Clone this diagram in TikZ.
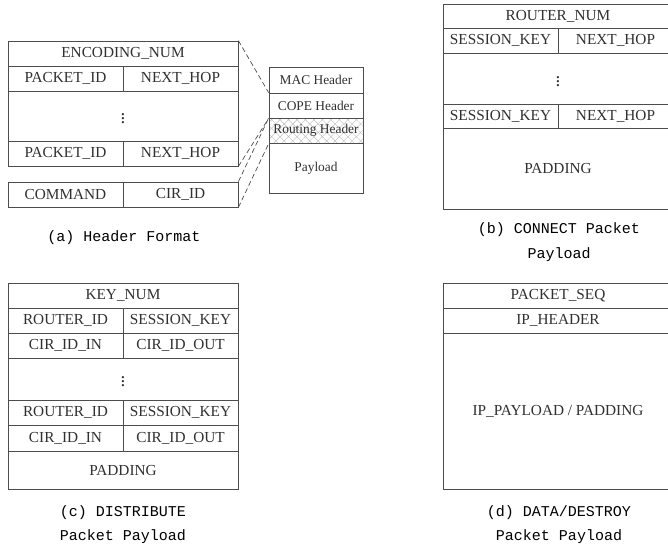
\documentclass[tikz,border=0pt]{standalone}
\usepackage{fontspec}
\setmainfont{Liberation Serif}
\newfontfamily\capfont{Liberation Mono}
\usetikzlibrary{patterns.meta}
\definecolor{linegray}{HTML}{4D4D4D}
\definecolor{textgray}{HTML}{303030}
\definecolor{hatchgray}{HTML}{BDBDBD}
\newcommand{\rowdots}{{\fontsize{19}{19}\selectfont$\vdots$}}
\begin{document}
\begin{tikzpicture}[x=1pt, y=-1pt,
          field/.style={draw=linegray, line width=0.8pt, inner sep=0pt, text=textgray,
                        font=\fontsize{15.3}{18}\selectfont},
          half/.style={field, minimum width=115pt, minimum height=25pt},
          full/.style={field, minimum width=230pt},
          hdr/.style={field, minimum width=94pt, font=\fontsize{13.4}{16}\selectfont},
          caption/.style={text=black, align=center, inner sep=0pt,
                          font=\capfont\fontsize{15}{24.5}\selectfont},
          zoomline/.style={draw=linegray, line width=0.7pt, dash pattern=on 5pt off 3pt}
        ]
        \useasboundingbox (0,0) rectangle (668,544);
        % (a) header format
        \node[full, minimum height=25pt] (encnum) at (123,53.5) {ENCODING\_NUM};
        \node[half] (pid1) at (65.5,78.5) {PACKET\_ID};
        \node[half] (nhop1) at (180.5,78.5) {NEXT\_HOP};
        \node[full, minimum height=50pt] (dotsa) at (123,116) {\rowdots};
        \node[half] (pid2) at (65.5,153.5) {PACKET\_ID};
        \node[half] (nhop2) at (180.5,153.5) {NEXT\_HOP};
        \node[half] (cmd) at (65.5,194.5) {COMMAND};
        \node[half] (cirid) at (180.5,194.5) {CIR\_ID};
        \node[hdr, minimum height=26pt] (mac) at (316,80) {MAC Header};
        \node[hdr, minimum height=25pt] (cope) at (316,105.5) {COPE Header};
        \node[hdr, minimum height=25pt, pattern={Hatch[angle=45, distance=6pt, line width=0.4pt]},
              pattern color=hatchgray] (routing) at (316,130.5) {Routing Header};
        \node[hdr, minimum height=50pt] (payload) at (316,168) {Payload};
        \draw[zoomline] (encnum.north east) -- (cope.north west);
        \draw[zoomline] (nhop2.south east) -- (cope.south west);
        \draw[zoomline] (cirid.north east) -- (routing.north west);
        \draw[zoomline] (cirid.south east) -- (routing.south west);
        \node[caption] (capa) at (124,238) {(a) Header Format};
        % (b) connect payload
        \node[full, minimum height=24pt] (rnum) at (558,16) {ROUTER\_NUM};
        \node[half] (skey1) at (500.5,40.5) {SESSION\_KEY};
        \node[half] (nhop3) at (615.5,40.5) {NEXT\_HOP};
        \node[full, minimum height=51pt] (dotsb) at (558,78.5) {\rowdots};
        \node[half, minimum height=24pt] (skey2) at (500.5,116) {SESSION\_KEY};
        \node[half, minimum height=24pt] (nhop4) at (615.5,116) {NEXT\_HOP};
        \node[full, minimum height=81pt] (padb) at (558,168.5) {PADDING};
        \node[caption] (capb) at (559,242) {(b) CONNECT Packet\\Payload};
        % (c) distribute payload
        \node[full, minimum height=25pt] (knum) at (123,295.5) {KEY\_NUM};
        \node[half] (rid1) at (65.5,320.5) {ROUTER\_ID};
        \node[half] (skey3) at (180.5,320.5) {SESSION\_KEY};
        \node[half] (cin1) at (65.5,345.5) {CIR\_ID\_IN};
        \node[half] (cout1) at (180.5,345.5) {CIR\_ID\_OUT};
        \node[full, minimum height=42pt] (dotsc) at (123,379) {\rowdots};
        \node[half] (rid2) at (65.5,412.5) {ROUTER\_ID};
        \node[half] (skey4) at (180.5,412.5) {SESSION\_KEY};
        \node[half, minimum height=26pt] (cin2) at (65.5,438) {CIR\_ID\_IN};
        \node[half, minimum height=26pt] (cout2) at (180.5,438) {CIR\_ID\_OUT};
        \node[full, minimum height=38pt] (padc) at (123,470) {PADDING};
        \node[caption] (capc) at (123,524.5) {(c) DISTRIBUTE\\Packet Payload};
        % (d) data/destroy payload
        \node[full, minimum height=25pt] (pseq) at (558,295.5) {PACKET\_SEQ};
        \node[full, minimum height=25pt] (iphdr) at (558,320.5) {IP\_HEADER};
        \node[full, minimum height=156pt] (ipload) at (558,411) {IP\_PAYLOAD / PADDING};
        \node[caption] (capd) at (559,524.5) {(d) DATA/DESTROY\\Packet Payload};
      \end{tikzpicture}
\end{document}
